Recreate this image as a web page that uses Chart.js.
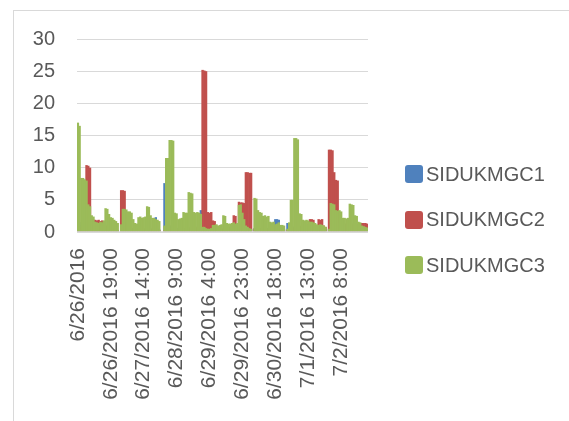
<!DOCTYPE html>
<html>
<head>
<meta charset="utf-8">
<script src="https://cdn.jsdelivr.net/npm/chart.js@4/dist/chart.umd.min.js"></script>
<style>
  html, body { margin: 0; padding: 0; background: #fff; }
  #wrap { position: relative; width: 569px; height: 421px; overflow: hidden; }
  #frame { position: absolute; left: 13px; top: 10px; width: 600px; height: 450px;
           border-left: 1px solid #d9d9d9; border-top: 1px solid #d9d9d9; }
  canvas { position: absolute; left: 0; top: 0; }
  #legend { position: absolute; left: 405px; top: 163px; font-family: "Liberation Sans", Arial, sans-serif;
            font-size: 20px; color: #595959; }
  .item { display: flex; align-items: center; height: 22px; margin-bottom: 23.5px; }
  .box { width: 18px; height: 18px; border-radius: 3px; margin-right: 3px; }
</style>
</head>
<body>
<div id="wrap">
  <div id="frame"></div>
  <canvas id="chart" width="569" height="421"></canvas>
  <div id="legend"></div>
</div>
<script>
const days = ["6/26/2016", "6/27/2016", "6/28/2016", "6/29/2016", "6/30/2016", "7/1/2016", "7/2/2016"];
const labelStep = 19;

// hourly readings, 6/26 0:00 .. 7/2 23:00
const sidukmgc1 = [
  2.0, 1.5, 1.0, 0.8, 0.8, 0.7, 0.6, 0.5, 0.5, 0.5, 0.4, 0.4,
  0.4, 0.4, 0.4, 0.4, 0.5, 0.5, 0.4, 0.4, 0.4, 0.4, 0.3, 0.3,
  0, 0.4, 0.5, 0.5, 0.5, 0.5, 0.5, 0.4, 0.4, 0.4, 0.4, 0.5,
  0.5, 0.5, 0.5, 0.5, 0.6, 0.6, 0.5, 0.5, 0.5, 2.3, 0.5, 0.4,
  0, 0, 7.6, 5.0, 1.2, 1.0, 0.8, 0.8, 0.7, 0.6, 0.6, 0.6,
  0.6, 0.6, 0.6, 0.6, 0.7, 0.7, 0.7, 0.6, 0.6, 0.6, 0.8, 3.4,
  0.5, 0.5, 0.5, 0.4, 0.4, 0.4, 0.4, 0.4, 0.4, 0.4, 0.4, 0.4,
  0.5, 0.5, 0.5, 0.5, 0.5, 0.5, 0.5, 0.5, 0.5, 0.5, 0.5, 0.5,
  0.5, 0.5, 0.4, 0.4, 0.4, 0, 0.6, 0.6, 0.6, 0.6, 0.6, 0.6,
  0.6, 0.6, 0.6, 0.6, 0.6, 0.6, 2.0, 2.0, 1.9, 0.8, 0.6, 0.5,
  0, 1.4, 1.2, 0.8, 0.8, 0.8, 0.7, 0.7, 0.6, 0.6, 0.6, 0.5,
  0.5, 0.5, 0.5, 0.5, 0.5, 0.5, 0.5, 0.5, 0.5, 0.5, 0.5, 0.4,
  0, 0.4, 0.5, 0.5, 0.5, 0.5, 0.5, 0.5, 0.5, 0.5, 0.5, 0.5,
  0.5, 0.5, 0.5, 0.5, 0.5, 0.5, 0.5, 0.5, 0.5, 0.5, 0.4, 0.4
];
const sidukmgc2 = [
  0.5, 0.5, 0.8, 5.7, 6.0, 10.4, 10.3, 10.0, 2.0, 1.9, 1.9, 1.8,
  1.9, 1.7, 1.8, 1.6, 1.0, 1.0, 0.8, 0.8, 0.5, 0.5, 0.4, 0.3,
  0, 6.5, 6.5, 6.4, 1.5, 1.0, 0.8, 0.6, 0.6, 0.5, 0.5, 0.5,
  0.5, 0.4, 0.5, 0.5, 0.6, 0.5, 0.5, 0.4, 0.4, 0.4, 0.3, 0.3,
  0, 0, 0.3, 0.5, 0.6, 0.6, 0.5, 0.5, 0.5, 0.4, 0.4, 0.4,
  0.4, 0.5, 0.5, 0.5, 0.6, 0.6, 0.5, 0.5, 0.6, 0.8, 1.2, 1.5,
  25.2, 25.1, 25.0, 3.1, 3.0, 3.1, 1.8, 1.7, 1.0, 0.6, 0.5, 0.5,
  0.5, 0.5, 0.6, 0.6, 0.8, 1.0, 2.6, 2.5, 1.0, 4.7, 4.6, 4.6,
  4.5, 9.3, 9.3, 9.2, 9.2, 0, 0.5, 0.5, 0.5, 0.5, 0.4, 0.4,
  0.4, 0.4, 0.4, 0.4, 0.4, 0.4, 0.3, 0.3, 0.3, 0.3, 0.3, 0.3,
  0, 0.3, 0.4, 0.5, 0.5, 0.6, 0.6, 0.6, 0.8, 1.0, 1.0, 1.0,
  1.0, 1.2, 2.0, 2.0, 1.9, 1.0, 1.0, 2.0, 1.9, 2.0, 1.0, 0.8,
  0, 12.8, 12.8, 12.7, 9.3, 8.1, 8.0, 1.5, 1.4, 1.4, 1.3, 1.3,
  1.3, 1.4, 1.3, 1.3, 1.2, 1.2, 1.2, 1.4, 1.4, 1.4, 1.4, 1.3
];
const sidukmgc3 = [
  17, 16.5, 8.4, 8.4, 8.2, 8.0, 4.3, 4.0, 2.6, 2.4, 1.6, 1.5,
  1.4, 1.6, 1.5, 1.8, 3.7, 3.6, 2.8, 2.3, 2.2, 1.9, 1.7, 1.4,
  0, 1.2, 3.6, 3.6, 3.5, 3.2, 3.2, 3.0, 2.0, 1.4, 1.3, 2.3,
  2.4, 2.2, 2.3, 2.4, 4.0, 3.9, 2.6, 2.2, 2.2, 2.0, 1.9, 1.7,
  0, 0, 1.0, 11.5, 11.5, 14.3, 14.3, 14.2, 3.0, 2.9, 2.0, 2.1,
  2.2, 3.1, 3.0, 3.0, 6.2, 6.1, 6.0, 3.1, 3.0, 3.1, 3.0, 2.8,
  0.8, 0.8, 0.6, 0.5, 0.5, 0.6, 1.1, 1.1, 1.2, 1.0, 1.1, 1.2,
  2.6, 2.5, 1.4, 1.3, 1.3, 1.4, 1.5, 1.3, 1.4, 4.2, 4.3, 3.0,
  2.0, 1.0, 0.8, 0.6, 0.5, 0, 5.3, 5.2, 3.4, 3.1, 3.0, 2.5,
  2.6, 2.4, 2.5, 1.6, 1.5, 1.6, 1.2, 1.3, 1.5, 1.1, 1.1, 1.0,
  0, 0.5, 1.5, 5.0, 5.0, 14.6, 14.6, 14.4, 2.9, 2.8, 1.9, 1.8,
  1.9, 1.8, 1.6, 1.6, 1.5, 1.4, 1.2, 1.1, 1.2, 1.1, 1.0, 0.8,
  0, 0.5, 4.5, 4.4, 4.3, 3.4, 3.3, 3.4, 3.2, 2.2, 2.2, 2.1,
  2.2, 4.4, 4.3, 4.2, 2.6, 2.5, 1.6, 1.5, 1.0, 0.9, 0.8, 0.7
];

const labels = [];
days.forEach(d => {
  for (let h = 0; h < 24; h++) labels.push(h === 0 ? d : d + " " + h + ":00");
});

const seriesNames = ["SIDUKMGC1", "SIDUKMGC2", "SIDUKMGC3"];
const seriesColors = ["#4f81bd", "#c0504d", "#9bbb59"];
const seriesData = [sidukmgc1, sidukmgc2, sidukmgc3];

const fontFamily = '"Liberation Sans", Arial, sans-serif';
const textColor = "#595959";

// horizontal axis line sits on top of the bars like in excel
const axisLine = {
  id: "axisLine",
  afterDatasetsDraw(chart) {
    const { ctx, chartArea } = chart;
    const y = chart.scales.y.getPixelForValue(0);
    ctx.save();
    ctx.strokeStyle = "#d9d9d9";
    ctx.lineWidth = 1.5;
    ctx.beginPath();
    ctx.moveTo(chartArea.left, y);
    ctx.lineTo(chartArea.right, y);
    ctx.stroke();
    ctx.restore();
  }
};

new Chart(document.getElementById("chart"), {
  type: "bar",
  data: {
    labels: labels,
    datasets: seriesData.map((d, i) => ({
      label: seriesNames[i],
      data: d,
      backgroundColor: seriesColors[i],
      borderWidth: 0,
      barPercentage: 1.4,
      categoryPercentage: 1,
      grouped: false,
      order: 3 - i
    }))
  },
  options: {
    responsive: false,
    animation: false,
    layout: { padding: { left: 13, top: 39, right: 201, bottom: 0 } },
    plugins: { legend: { display: false }, tooltip: { enabled: false } },
    scales: {
      x: {
        grid: { display: false, drawTicks: false },
        border: { display: false },
        ticks: {
          autoSkip: false,
          maxRotation: 90,
          minRotation: 90,
          padding: 16,
          color: textColor,
          font: { family: fontFamily, size: 21 },
          callback: function (v, i) { return i % labelStep === 0 ? labels[i] : ""; }
        },
        afterFit: s => { s.height = 189; }
      },
      y: {
        min: 0,
        max: 30,
        ticks: { stepSize: 5, padding: 22, color: textColor, font: { family: fontFamily, size: 20 } },
        grid: { color: "#d9d9d9", lineWidth: 1, drawTicks: false },
        border: { display: false },
        afterFit: s => { s.width = 64; }
      }
    }
  },
  plugins: [axisLine]
});

const legend = document.getElementById("legend");
seriesNames.forEach((n, i) => {
  const row = document.createElement("div");
  row.className = "item";
  row.innerHTML = '<span class="box" style="background:' + seriesColors[i] + '"></span><span>' + n + "</span>";
  legend.appendChild(row);
});
</script>
</body>
</html>
